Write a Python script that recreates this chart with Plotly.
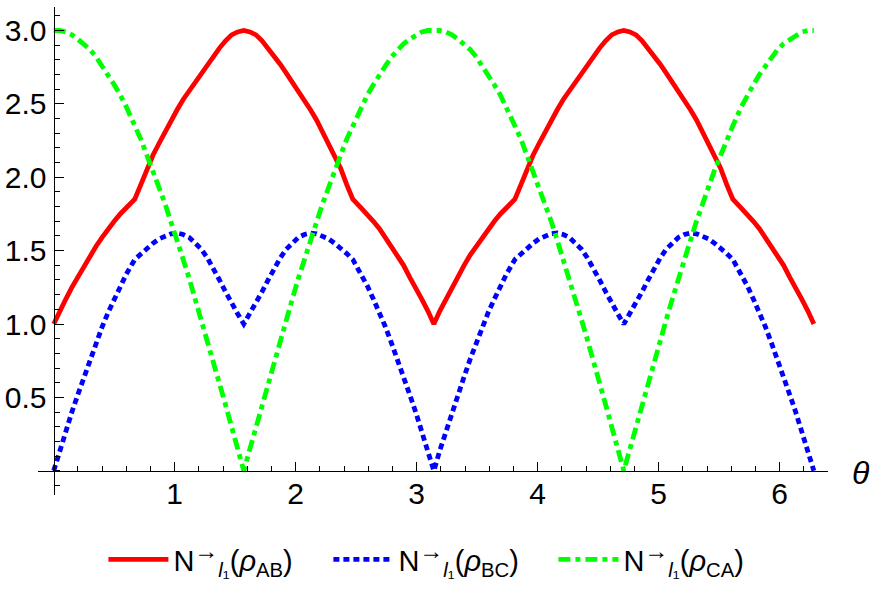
import plotly.graph_objects as go

# theta grid (kinks at ~0.67 and at multiples of pi/2 included)
theta = [
    0.000, 0.050, 0.100, 0.150, 0.200, 0.250, 0.300, 0.350, 0.400, 0.450, 0.500, 0.550, 0.600, 0.670,
    0.720, 0.770, 0.820, 0.870, 0.920, 0.970, 1.020, 1.070, 1.120, 1.170, 1.220, 1.270, 1.320, 1.370,
    1.420, 1.470, 1.520, 1.571,
    1.622, 1.672, 1.722, 1.772, 1.822, 1.872, 1.922, 1.972, 2.022, 2.072, 2.122, 2.172, 2.222, 2.272,
    2.322, 2.372, 2.422, 2.472, 2.542, 2.592, 2.642, 2.692, 2.742, 2.792, 2.842, 2.892, 2.942, 2.992,
    3.042, 3.092, 3.142,
    3.192, 3.242, 3.292, 3.342, 3.392, 3.442, 3.492, 3.542, 3.592, 3.642, 3.692, 3.742, 3.812, 3.862,
    3.912, 3.962, 4.012, 4.062, 4.112, 4.162, 4.212, 4.262, 4.312, 4.362, 4.412, 4.462, 4.512, 4.562,
    4.612, 4.662, 4.712,
    4.763, 4.813, 4.863, 4.913, 4.963, 5.013, 5.063, 5.113, 5.163, 5.213, 5.263, 5.313, 5.363, 5.413,
    5.463, 5.513, 5.563, 5.613, 5.683, 5.733, 5.783, 5.833, 5.883, 5.933, 5.983, 6.033, 6.083, 6.133,
    6.183, 6.233, 6.283,
]

rho_ab = [
    1.00, 1.09, 1.17, 1.25, 1.32, 1.40, 1.47, 1.53, 1.59, 1.65, 1.70, 1.75, 1.79, 1.85,
    1.95, 2.06, 2.15, 2.23, 2.31, 2.39, 2.46, 2.53, 2.59, 2.65, 2.71, 2.77, 2.83, 2.88,
    2.93, 2.97, 2.99, 3.00,
    2.99, 2.97, 2.93, 2.88, 2.83, 2.77, 2.71, 2.65, 2.59, 2.53, 2.46, 2.39, 2.31, 2.23,
    2.15, 2.06, 1.95, 1.85, 1.79, 1.75, 1.70, 1.65, 1.59, 1.53, 1.47, 1.40, 1.32, 1.25,
    1.17, 1.09, 1.00,
    1.09, 1.17, 1.25, 1.32, 1.40, 1.47, 1.53, 1.59, 1.65, 1.70, 1.75, 1.79, 1.85, 1.95,
    2.06, 2.15, 2.23, 2.31, 2.39, 2.46, 2.53, 2.59, 2.65, 2.71, 2.77, 2.83, 2.88, 2.93,
    2.97, 2.99, 3.00,
    2.99, 2.97, 2.93, 2.88, 2.83, 2.77, 2.71, 2.65, 2.59, 2.53, 2.46, 2.39, 2.31, 2.23,
    2.15, 2.06, 1.95, 1.85, 1.79, 1.75, 1.70, 1.65, 1.59, 1.53, 1.47, 1.40, 1.32, 1.25,
    1.17, 1.09, 1.00,
]

rho_bc = [
    0.00, 0.14, 0.27, 0.40, 0.52, 0.64, 0.76, 0.87, 0.98, 1.08, 1.17, 1.26, 1.34, 1.44,
    1.48, 1.52, 1.55, 1.58, 1.60, 1.615, 1.62, 1.61, 1.59, 1.555, 1.51, 1.45, 1.38, 1.30,
    1.22, 1.14, 1.07, 1.00,
    1.07, 1.14, 1.22, 1.30, 1.38, 1.45, 1.51, 1.555, 1.59, 1.61, 1.62, 1.615, 1.60, 1.58,
    1.55, 1.52, 1.48, 1.44, 1.34, 1.26, 1.17, 1.08, 0.98, 0.87, 0.76, 0.64, 0.52, 0.40,
    0.27, 0.14, 0.00,
    0.14, 0.27, 0.40, 0.52, 0.64, 0.76, 0.87, 0.98, 1.08, 1.17, 1.26, 1.34, 1.44, 1.48,
    1.52, 1.55, 1.58, 1.60, 1.615, 1.62, 1.61, 1.59, 1.555, 1.51, 1.45, 1.38, 1.30, 1.22,
    1.14, 1.07, 1.00,
    1.07, 1.14, 1.22, 1.30, 1.38, 1.45, 1.51, 1.555, 1.59, 1.61, 1.62, 1.615, 1.60, 1.58,
    1.55, 1.52, 1.48, 1.44, 1.34, 1.26, 1.17, 1.08, 0.98, 0.87, 0.76, 0.64, 0.52, 0.40,
    0.27, 0.14, 0.00,
]

rho_ca = [
    3.00, 3.00, 2.99, 2.97, 2.94, 2.91, 2.87, 2.82, 2.76, 2.70, 2.63, 2.56, 2.48, 2.35,
    2.26, 2.15, 2.05, 1.93, 1.82, 1.70, 1.57, 1.44, 1.31, 1.17, 1.03, 0.89, 0.75, 0.60,
    0.45, 0.30, 0.15, 0.00,
    0.15, 0.30, 0.45, 0.60, 0.75, 0.89, 1.03, 1.17, 1.31, 1.44, 1.57, 1.70, 1.82, 1.93,
    2.05, 2.15, 2.26, 2.35, 2.48, 2.56, 2.63, 2.70, 2.76, 2.82, 2.87, 2.91, 2.94, 2.97,
    2.99, 3.00, 3.00,
    3.00, 2.99, 2.97, 2.94, 2.91, 2.87, 2.82, 2.76, 2.70, 2.63, 2.56, 2.48, 2.35, 2.26,
    2.15, 2.05, 1.93, 1.82, 1.70, 1.57, 1.44, 1.31, 1.17, 1.03, 0.89, 0.75, 0.60, 0.45,
    0.30, 0.15, 0.00,
    0.15, 0.30, 0.45, 0.60, 0.75, 0.89, 1.03, 1.17, 1.31, 1.44, 1.57, 1.70, 1.82, 1.93,
    2.05, 2.15, 2.26, 2.35, 2.48, 2.56, 2.63, 2.70, 2.76, 2.82, 2.87, 2.91, 2.94, 2.97,
    2.99, 3.00, 3.00,
]

x_ticks = [1, 2, 3, 4, 5, 6]
x_ticktext = ["1", "2", "3", "4", "5", "6"]
y_ticks = [0.5, 1.0, 1.5, 2.0, 2.5, 3.0]
y_ticktext = ["0.5", "1.0", "1.5", "2.0", "2.5", "3.0"]

ARROW = "<sup><span style='font-size:24px'>→</span></sup>"
names = [
    "N" + ARROW + "<sub><i>l</i>₁</sub>(<i>ρ</i><sub>AB</sub>)",
    "N" + ARROW + "<sub><i>l</i>₁</sub>(<i>ρ</i><sub>BC</sub>)",
    "N" + ARROW + "<sub><i>l</i>₁</sub>(<i>ρ</i><sub>CA</sub>)",
]

FONT = "Liberation Sans, Arial, sans-serif"

fig = go.Figure()
fig.add_trace(go.Scatter(x=theta, y=rho_ab, mode="lines", name=names[0],
                         line=dict(color="#FF0000", width=4.8)))
fig.add_trace(go.Scatter(x=theta, y=rho_bc, mode="lines", name=names[1],
                         line=dict(color="#0000FF", width=4.8, dash="6px,4px")))
fig.add_trace(go.Scatter(x=theta, y=rho_ca, mode="lines", name=names[2],
                         line=dict(color="#00FF00", width=4.8, dash="12px,5px,5px,5px")))

x_lo, x_hi = -0.13, 6.40
y_lo, y_hi = -0.165, 3.16

fig.update_layout(
    width=872, height=607,
    margin=dict(l=38, r=44, t=7, b=112),
    paper_bgcolor="white", plot_bgcolor="white",
    font=dict(family=FONT, size=30, color="black"),
    showlegend=True,
    legend=dict(orientation="h", x=0.51, xanchor="center", y=-0.08, yanchor="top",
                font=dict(size=29, color="black"), itemwidth=60,
                entrywidth=150, entrywidthmode="pixels", traceorder="normal"),
    xaxis=dict(range=[x_lo, x_hi], showgrid=False, zeroline=False, automargin=False,
               showline=True, linecolor="black", linewidth=1.3,
               anchor="free", position=(0 - y_lo) / (y_hi - y_lo),
               ticks="inside", ticklen=9, tickwidth=1.3, tickcolor="black",
               tickvals=x_ticks, ticktext=x_ticktext, ticklabelstandoff=-4,
               tickfont=dict(size=30),
               minor=dict(tickmode="linear", tick0=0, dtick=0.2, ticks="inside",
                          ticklen=5, tickwidth=1, tickcolor="black")),
    yaxis=dict(range=[y_lo, y_hi], showgrid=False, zeroline=False, automargin=False,
               showline=True, linecolor="black", linewidth=1.3,
               anchor="free", position=(0 - x_lo) / (x_hi - x_lo),
               ticks="inside", ticklen=9, tickwidth=1.3, tickcolor="black",
               tickvals=y_ticks, ticktext=y_ticktext, ticklabelstandoff=1,
               tickfont=dict(size=30),
               minor=dict(tickmode="linear", tick0=0, dtick=0.1, ticks="inside",
                          ticklen=5, tickwidth=1, tickcolor="black")),
    annotations=[dict(text="<i>θ</i>", xref="paper", yref="y", x=1.0, y=0,
                      xanchor="left", yanchor="middle", xshift=22, yshift=-2,
                      showarrow=False, font=dict(size=32, family=FONT, color="black"))],
)

# remove the browser's default 8px body margin so the figure sits at the page origin
fig.write_html("out.html", config={"displayModeBar": False},
               post_script="document.body.style.margin='0px';")
